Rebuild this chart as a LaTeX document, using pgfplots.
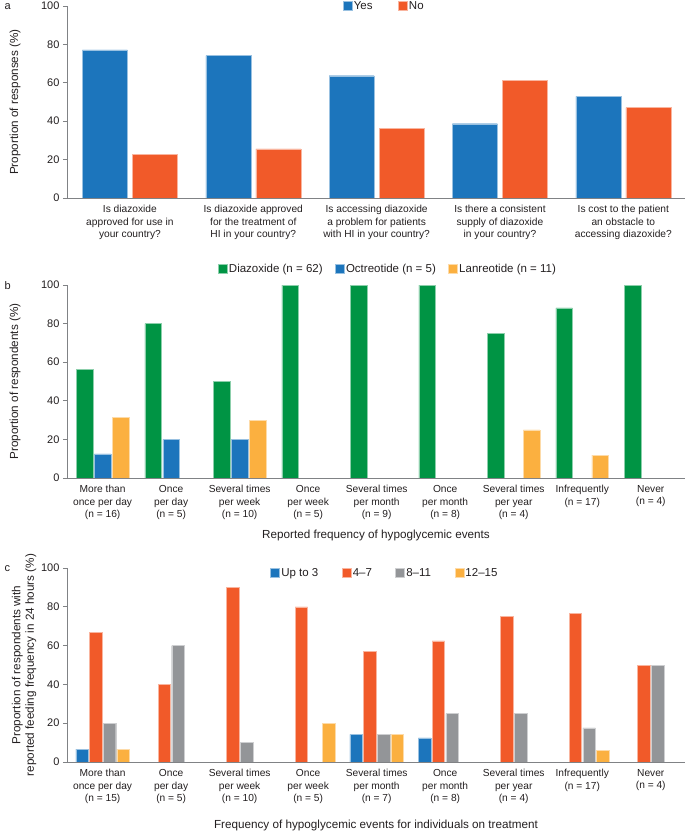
\documentclass[border=0pt]{standalone}
\usepackage{fontspec}
\setmainfont{Liberation Sans}
\usepackage{pgfplots}
\pgfplotsset{compat=1.18}
\definecolor{cblue}{HTML}{1C75BC}
\definecolor{corange}{HTML}{F15A29}
\definecolor{cgreen}{HTML}{009444}
\definecolor{cyellow}{HTML}{FBB040}
\definecolor{cgray}{HTML}{939598}
\definecolor{axgray}{HTML}{808285}
\definecolor{txt}{HTML}{231F20}
\pgfplotsset{
  ybar legend/.style={/pgfplots/legend image code/.code={\fill[##1] (0pt,-4.5pt) rectangle (9pt,4.5pt);}},
  myaxis/.style={
    scale only axis, width=618pt,
    ymin=0, ymax=100, ytick={0,20,40,60,80,100},
    axis lines*=left,
    axis line style={draw=axgray, line width=0.8pt},
    tick align=outside, major tick length=4pt,
    ytick style={draw=axgray, line width=0.8pt},
    xtick style={draw=none},
    yticklabel style={font=\fontsize{11}{13}\selectfont, text=txt},
    /pgf/number format/assume math mode=true,
    xticklabel style={font=\fontsize{10.2}{12.4}\selectfont, align=center, text=txt, anchor=north},
    label style={font=\fontsize{11.7}{13.5}\selectfont, text=txt},
    ybar, axis on top,
    enlarge x limits=false,
    legend style={draw=none, fill=none, font=\fontsize{11.5}{13}\selectfont, text=txt, legend columns=-1, anchor=center, inner sep=0pt, nodes={inner xsep=1.5pt}},
  },
  mybar/.style={fill=#1, draw=#1!45!white, line width=0.4pt},
}
\begin{document}
\begin{tikzpicture}
\path[use as bounding box] (0,0) rectangle (685pt,-831pt);
% panel labels
\node[anchor=west, font=\fontsize{11}{13}\selectfont, text=txt] at (1pt,-7pt) {a};
\node[anchor=west, font=\fontsize{11}{13}\selectfont, text=txt] at (1pt,-286pt) {b};
\node[anchor=west, font=\fontsize{11}{13}\selectfont, text=txt] at (1pt,-569pt) {c};

% ---------------- panel a
\begin{axis}[myaxis, at={(67pt,-198pt)}, anchor=south west, height=192pt,
  xmin=-0.51, xmax=4.5, xtick={0,1,2,3,4},
  bar width=45pt, ybar=5pt,
  xticklabels={{Is diazoxide\\approved for use in\\your country?},
               {Is diazoxide approved\\for the treatment of\\HI in your country?},
               {Is accessing diazoxide\\a problem for patients\\with HI in your country?},
               {Is there a consistent\\supply of diazoxide\\in your country?},
               {Is cost to the patient\\an obstacle to\\accessing diazoxide?}},
  ylabel={Proportion of responses (\%)},
  ylabel style={at={(axis description cs:-0.0841,0.5)}, anchor=center},
  legend style={at={(axis description cs:0.513,1.0)}, /tikz/every even column/.append style={column sep=24pt}},
]
\addplot[mybar=cblue] coordinates {(0,77.2) (1,74.2) (2,63.7) (3,38.7) (4,52.9)};
\addplot[mybar=corange] coordinates {(0,22.7) (1,25.6) (2,36.1) (3,61.1) (4,47.1)};
\legend{Yes, No}
\end{axis}

% ---------------- panel b
\begin{axis}[myaxis, at={(67pt,-478pt)}, anchor=south west, height=193pt,
  xmin=-0.52, xmax=8.5, xtick={0,...,8},
  bar width=16.5pt, ybar=1.5pt,
  xticklabels={{More than\\once per day\\(n = 16)},
               {Once\\per day\\(n = 5)},
               {Several times\\per week\\(n = 10)},
               {Once\\per week\\(n = 5)},
               {Several times\\per month\\(n = 9)},
               {Once\\per month\\(n = 8)},
               {Several times\\per year\\(n = 4)},
               {Infrequently\\(n = 17)},
               {Never\\(n = 4)}},
  ylabel={Proportion of respondents (\%)},
  ylabel style={at={(axis description cs:-0.0841,0.5)}, anchor=center},
  xlabel={Reported frequency of hypoglycemic events},
  xlabel style={at={(axis description cs:0.5,0)}, anchor=center, yshift=-57pt},
  legend style={at={(axis description cs:0.519,1.083)}, /tikz/every even column/.append style={column sep=11pt}},
]
\addplot[mybar=cgreen] coordinates {(0,56.25) (1,80) (2,50) (3,100) (4,100) (5,100) (6,75) (7,88.2) (8,100)};
\addplot[mybar=cblue] coordinates {(0,12.5) (1,20) (2,20) (3,0) (4,0) (5,0) (6,0) (7,0) (8,0)};
\addplot[mybar=cyellow] coordinates {(0,31.25) (1,0) (2,30) (3,0) (4,0) (5,0) (6,25) (7,11.8) (8,0)};
\legend{Diazoxide (n = 62), Octreotide (n = 5), Lanreotide (n = 11)}
\end{axis}

% ---------------- panel c
\begin{axis}[myaxis, at={(67pt,-762pt)}, anchor=south west, height=194pt,
  xmin=-0.52, xmax=8.5, xtick={0,...,8},
  bar width=12.5pt, ybar=1.2pt,
  xticklabels={{More than\\once per day\\(n = 15)},
               {Once\\per day\\(n = 5)},
               {Several times\\per week\\(n = 10)},
               {Once\\per week\\(n = 5)},
               {Several times\\per month\\(n = 7)},
               {Once\\per month\\(n = 8)},
               {Several times\\per year\\(n = 4)},
               {Infrequently\\(n = 17)},
               {Never\\(n = 4)}},
  ylabel={Proportion of respondents with\\reported feeding frequency in 24 hours (\%)},
  ylabel style={align=center, at={(axis description cs:-0.0696,0.5)}, anchor=center},
  xlabel={Frequency of hypoglycemic events for individuals on treatment},
  xlabel style={at={(axis description cs:0.5,0)}, anchor=center, yshift=-63pt},
  legend style={at={(axis description cs:0.514,0.974)}, /tikz/every even column/.append style={column sep=22pt}},
]
\addplot[mybar=cblue] coordinates {(0,6.7) (1,0) (2,0) (3,0) (4,14.3) (5,12.5) (6,0) (7,0) (8,0)};
\addplot[mybar=corange] coordinates {(0,66.7) (1,40) (2,90) (3,80) (4,57.1) (5,62.5) (6,75) (7,76.5) (8,50)};
\addplot[mybar=cgray] coordinates {(0,20) (1,60) (2,10) (3,0) (4,14.3) (5,25) (6,25) (7,17.6) (8,50)};
\addplot[mybar=cyellow] coordinates {(0,6.7) (1,0) (2,0) (3,20) (4,14.3) (5,0) (6,0) (7,5.9) (8,0)};
\legend{Up to 3, 4--7, 8--11, 12--15}
\end{axis}
\end{tikzpicture}
\end{document}
